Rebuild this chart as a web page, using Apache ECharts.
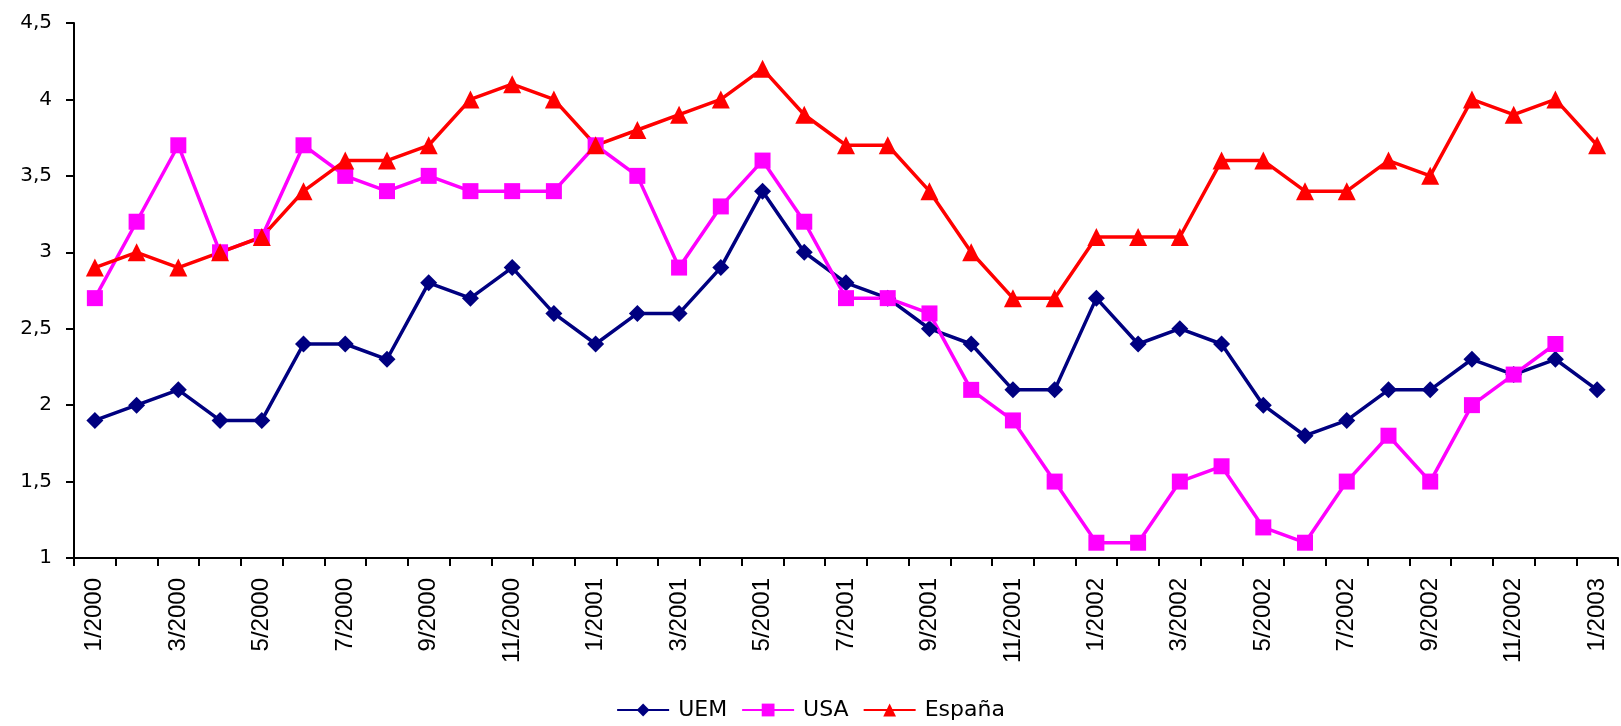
<!DOCTYPE html>
<html>
<head>
<meta charset="utf-8">
<script src="https://cdn.jsdelivr.net/npm/echarts@6/dist/echarts.min.js"></script>
<style>html,body{margin:0;padding:0;background:#fff}#c{width:1621px;height:726px}</style>
</head>
<body>
<div id="c"></div>
<script>
const categories = ["1/2000","2/2000","3/2000","4/2000","5/2000","6/2000","7/2000","8/2000","9/2000","10/2000","11/2000","12/2000",
  "1/2001","2/2001","3/2001","4/2001","5/2001","6/2001","7/2001","8/2001","9/2001","10/2001","11/2001","12/2001",
  "1/2002","2/2002","3/2002","4/2002","5/2002","6/2002","7/2002","8/2002","9/2002","10/2002","11/2002","12/2002","1/2003"];
const uem = [1.9,2.0,2.1,1.9,1.9,2.4,2.4,2.3,2.8,2.7,2.9,2.6,
  2.4,2.6,2.6,2.9,3.4,3.0,2.8,2.7,2.5,2.4,2.1,2.1,
  2.7,2.4,2.5,2.4,2.0,1.8,1.9,2.1,2.1,2.3,2.2,2.3,2.1];
const usa = [2.7,3.2,3.7,3.0,3.1,3.7,3.5,3.4,3.5,3.4,3.4,3.4,
  3.7,3.5,2.9,3.3,3.6,3.2,2.7,2.7,2.6,2.1,1.9,1.5,
  1.1,1.1,1.5,1.6,1.2,1.1,1.5,1.8,1.5,2.0,2.2,2.4,null];
const espana = [2.9,3.0,2.9,3.0,3.1,3.4,3.6,3.6,3.7,4.0,4.1,4.0,
  3.7,3.8,3.9,4.0,4.2,3.9,3.7,3.7,3.4,3.0,2.7,2.7,
  3.1,3.1,3.1,3.6,3.6,3.4,3.4,3.6,3.5,4.0,3.9,4.0,3.7];
const seriesNames = ["UEM","USA","España"];

const chart = echarts.init(document.getElementById('c'), null, {renderer:'canvas'});
const font = '"Liberation Sans", Arial, sans-serif';
const wide = '"DejaVu Sans", sans-serif';
function mk(name, data, color, symbol, size){
  return {name, type:'line', data, color, symbol, symbolSize:size, showSymbol:true,
    lineStyle:{width:3.5,color}, itemStyle:{color}, animation:false, connectNulls:false};
}
chart.setOption({
  animation:false,
  textStyle:{fontFamily:font, fontSize:18},
  grid:{left:74,right:3,top:23,bottom:168,containLabel:false},
  legend:{top:694,left:'center',itemWidth:52,itemHeight:16,itemGap:14,
    textStyle:{fontSize:22,color:'#000',fontFamily:wide,padding:[0,0,0,4]},
    data:seriesNames},
  xAxis:{type:'category',data:categories,boundaryGap:true,
    axisLine:{lineStyle:{color:'#000',width:2}},
    axisTick:{show:true,interval:0,length:8,lineStyle:{color:'#000',width:2}},
    axisLabel:{interval:1,rotate:90,margin:20,fontSize:24,color:'#000',fontFamily:font},
    splitLine:{show:false}},
  yAxis:{type:'value',min:1,max:4.5,interval:0.5,
    axisLine:{show:true,lineStyle:{color:'#000',width:2}},
    axisTick:{show:true,length:8,lineStyle:{color:'#000',width:2}},
    axisLabel:{margin:22,fontSize:20,color:'#000',fontFamily:wide,
      formatter:v=>String(v).replace('.',',')},
    splitLine:{show:false}},
  series:[
    mk(seriesNames[0], uem, '#000080','diamond',17),
    mk(seriesNames[1], usa, '#FF00FF','rect',16),
    mk(seriesNames[2], espana, '#FF0000','triangle',18)
  ]
});
</script>
</body>
</html>
